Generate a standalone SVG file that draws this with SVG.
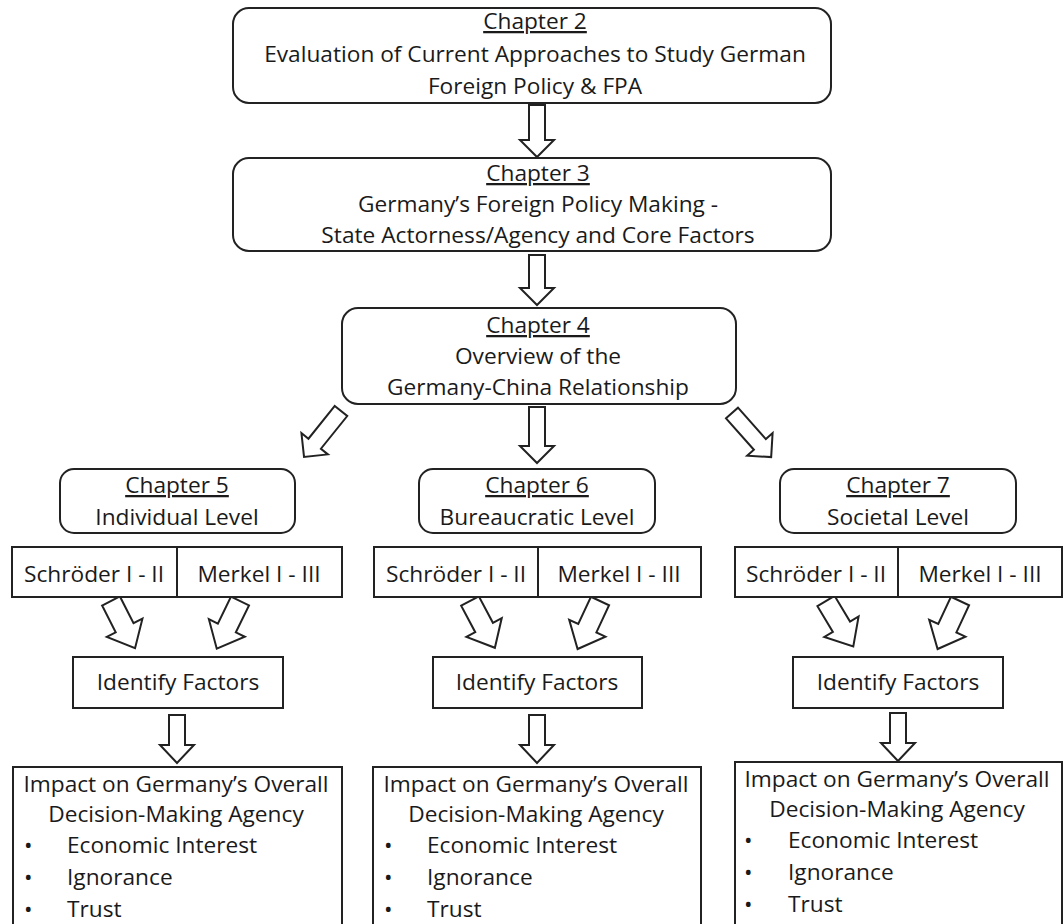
<svg xmlns="http://www.w3.org/2000/svg" width="1063" height="924" viewBox="0 0 1063 924">
<style>
.box{fill:#fff;stroke:#222;stroke-width:2}
.arr{fill:#fff;stroke:#222;stroke-width:2;stroke-linejoin:miter}
text{font-family:"Open Sans","Liberation Sans",sans-serif;font-size:22.7px;fill:#1a1a1a}
.c{text-anchor:middle}
.u{text-decoration:underline}
.b{font-size:18px}
</style>
<defs>
<path id="a52" d="M-8,0 H8 V35 H17 L0,52 L-17,35 H-8 Z"/>
<path id="a50" d="M-8,0 H8 V33 H17 L0,50 L-17,33 H-8 Z"/>
<path id="a56" d="M-8,0 H8 V39 H17 L0,56 L-17,39 H-8 Z"/>
<path id="a59" d="M-8,0 H8 V42 H17 L0,59 L-17,42 H-8 Z"/>
<path id="s53" d="M-10,0 H10 V30 H20 L0,53 L-20,30 H-10 Z"/>
<path id="v48" d="M-8,0 H8 V30 H17 L0,48 L-17,30 H-8 Z"/>
</defs>
<rect width="1063" height="924" fill="#fff"/>

<g id="connectors">
<use href="#a52" class="arr" x="537" y="105"/>
<use href="#a50" class="arr" x="537" y="255"/>
<use href="#a56" class="arr" x="537" y="407"/>
<use href="#a59" class="arr" transform="translate(341,411) rotate(38.8)"/>
<use href="#a59" class="arr" transform="translate(732,413) rotate(-41.6)"/>
<use href="#s53" class="arr" transform="translate(111,601) rotate(-27)"/>
<use href="#s53" class="arr" transform="translate(240,601) rotate(26)"/>
<use href="#s53" class="arr" transform="translate(470,601) rotate(-28)"/>
<use href="#s53" class="arr" transform="translate(600,601) rotate(25)"/>
<use href="#s53" class="arr" transform="translate(826,601) rotate(-31)"/>
<use href="#s53" class="arr" transform="translate(960,601) rotate(25)"/>
<use href="#v48" class="arr" x="177" y="715"/>
<use href="#v48" class="arr" x="537" y="715"/>
<use href="#v48" class="arr" x="898" y="713"/>
</g>

<g id="ch2">
<rect class="box" x="233" y="8" width="598" height="95" rx="16"/>
<text class="c u" x="535" y="29">Chapter 2</text>
<text class="c" x="535" y="62">Evaluation of Current Approaches to Study German</text>
<text class="c" x="535" y="94">Foreign Policy &amp; FPA</text>
</g>

<g id="ch3">
<rect class="box" x="233" y="158" width="598" height="93" rx="16"/>
<text class="c u" x="538" y="181">Chapter 3</text>
<text class="c" x="538" y="212">Germany’s Foreign Policy Making -</text>
<text class="c" x="538" y="243">State Actorness/Agency and Core Factors</text>
</g>

<g id="ch4">
<rect class="box" x="342" y="308" width="394" height="96" rx="16"/>
<text class="c u" x="538" y="333">Chapter 4</text>
<text class="c" x="538" y="364">Overview of the</text>
<text class="c" x="538" y="395">Germany-China Relationship</text>
</g>

<g id="ch5">
<rect class="box" x="60" y="469" width="235" height="64" rx="14"/>
<text class="c u" x="177" y="493">Chapter 5</text>
<text class="c" x="177" y="525">Individual Level</text>
</g>
<g id="ch6">
<rect class="box" x="419" y="469" width="236" height="64" rx="14"/>
<text class="c u" x="537" y="493">Chapter 6</text>
<text class="c" x="537" y="525">Bureaucratic Level</text>
</g>
<g id="ch7">
<rect class="box" x="780" y="469" width="236" height="64" rx="14"/>
<text class="c u" x="898" y="493">Chapter 7</text>
<text class="c" x="898" y="525">Societal Level</text>
</g>

<g id="gov5">
<rect class="box" x="12" y="547" width="330" height="50"/>
<line x1="177" y1="547" x2="177" y2="597" stroke="#222" stroke-width="2"/>
<text class="c" x="94" y="582">Schröder I - II</text>
<text class="c" x="259" y="582">Merkel I - III</text>
</g>
<g id="gov6">
<rect class="box" x="374" y="547" width="327" height="50"/>
<line x1="538" y1="547" x2="538" y2="597" stroke="#222" stroke-width="2"/>
<text class="c" x="456" y="582">Schröder I - II</text>
<text class="c" x="619" y="582">Merkel I - III</text>
</g>
<g id="gov7">
<rect class="box" x="735" y="547" width="327" height="50"/>
<line x1="898" y1="547" x2="898" y2="597" stroke="#222" stroke-width="2"/>
<text class="c" x="816" y="582">Schröder I - II</text>
<text class="c" x="980" y="582">Merkel I - III</text>
</g>

<g id="id5">
<rect class="box" x="73" y="657" width="210" height="51"/>
<text class="c" x="178" y="690">Identify Factors</text>
</g>
<g id="id6">
<rect class="box" x="433" y="657" width="209" height="51"/>
<text class="c" x="537" y="690">Identify Factors</text>
</g>
<g id="id7">
<rect class="box" x="793" y="657" width="210" height="51"/>
<text class="c" x="898" y="690">Identify Factors</text>
</g>

<g id="impact5">
<rect class="box" x="13" y="767" width="329" height="200"/>
<text class="c" x="176" y="792">Impact on Germany’s Overall</text>
<text class="c" x="176" y="822">Decision-Making Agency</text>
<text x="24" y="853">•</text><text x="67" y="853">Economic Interest</text>
<text x="24" y="885">•</text><text x="67" y="885">Ignorance</text>
<text x="24" y="917">•</text><text x="67" y="917">Trust</text>
</g>
<g id="impact6">
<rect class="box" x="373" y="767" width="328" height="200"/>
<text class="c" x="536" y="792">Impact on Germany’s Overall</text>
<text class="c" x="536" y="822">Decision-Making Agency</text>
<text x="384" y="853">•</text><text x="427" y="853">Economic Interest</text>
<text x="384" y="885">•</text><text x="427" y="885">Ignorance</text>
<text x="384" y="917">•</text><text x="427" y="917">Trust</text>
</g>
<g id="impact7">
<rect class="box" x="735" y="762" width="327" height="200"/>
<text class="c" x="897" y="787">Impact on Germany’s Overall</text>
<text class="c" x="897" y="817">Decision-Making Agency</text>
<text x="744" y="848">•</text><text x="788" y="848">Economic Interest</text>
<text x="744" y="880">•</text><text x="788" y="880">Ignorance</text>
<text x="744" y="912">•</text><text x="788" y="912">Trust</text>
</g>
</svg>
